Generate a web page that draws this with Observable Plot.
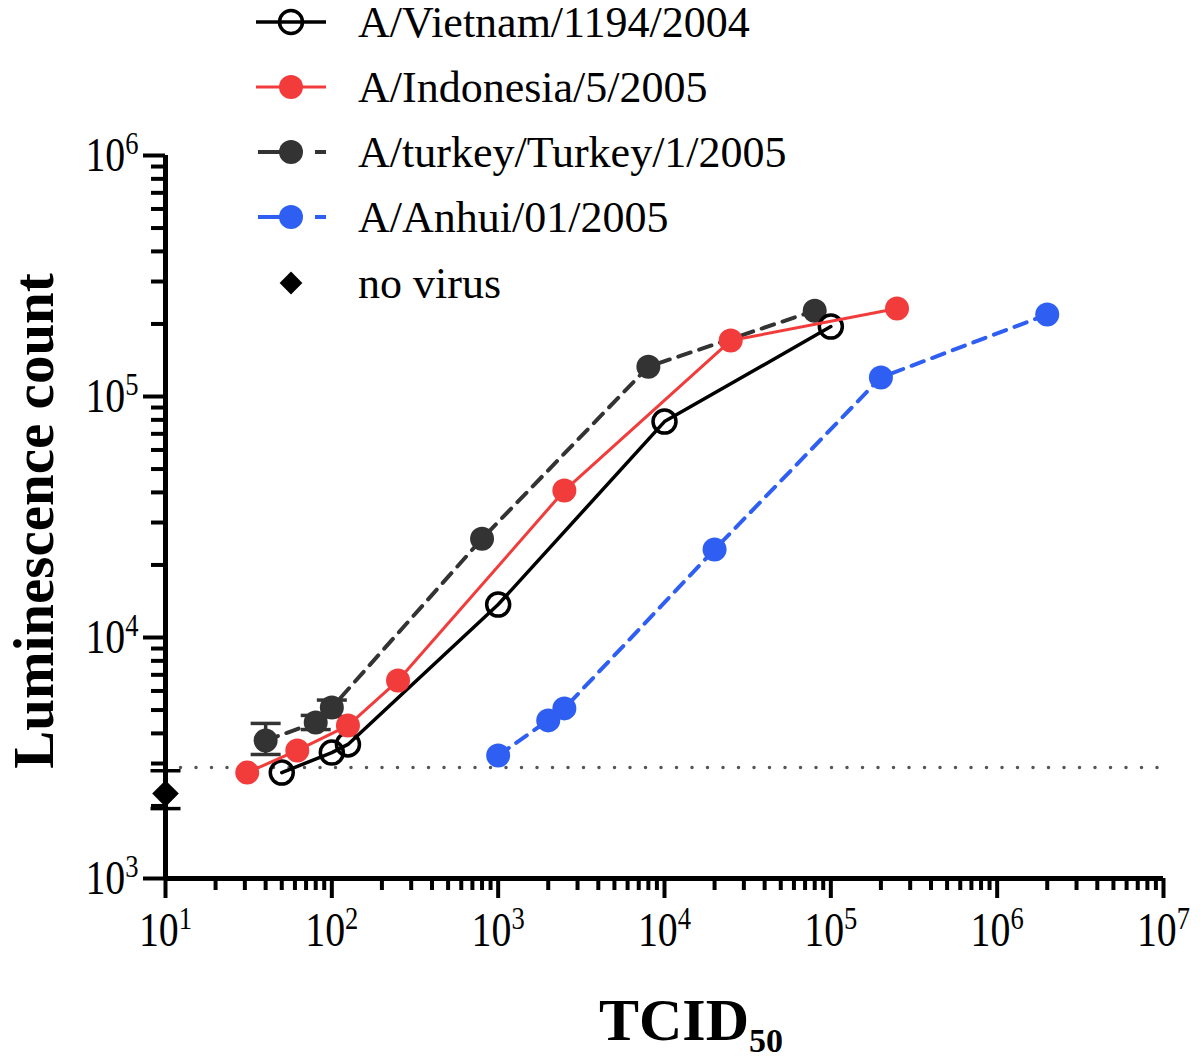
<!DOCTYPE html>
<html><head><meta charset="utf-8">
<script src="https://cdn.jsdelivr.net/npm/d3@7"></script>
<script src="https://cdn.jsdelivr.net/npm/@observablehq/plot@0.6"></script>
<style>body{margin:0;background:#fff} svg{display:block}</style>
</head><body><div id="chart"></div>
<script>
// ---- data ----
const seriesNames = ["A/Vietnam/1194/2004", "A/Indonesia/5/2005", "A/turkey/Turkey/1/2005", "A/Anhui/01/2005", "no virus"];
const vietnamX = [50, 100, 125, 1000, 10000, 100000];
const vietnamY = [2750, 3330, 3600, 13700, 78700, 195000];
const indonesiaX = [31, 62, 125, 250, 2500, 25000, 250000];
const indonesiaY = [2750, 3400, 4310, 6630, 40700, 170600, 231800];
const turkeyX = [40, 80, 100, 800, 8000, 80000];
const turkeyY = [3740, 4440, 5120, 25700, 133000, 227000];
const turkeyErrX = [40, 80, 100];
const turkeyErrLo = [3270, 4150, 4700];
const turkeyErrHi = [4400, 4750, 5500];
const anhuiX = [1000, 2000, 2500, 20000, 200000, 2000000];
const anhuiY = [3240, 4530, 5080, 23200, 120000, 219000];
const noVirusX = [10];
const noVirusY = [2250];
const noVirusLo = [1950];
const noVirusHi = [2800];
const backgroundLevel = [2890];
const xDecades = [1e1, 1e2, 1e3, 1e4, 1e5, 1e6, 1e7];
const yDecades = [1e3, 1e4, 1e5, 1e6];

const RED = "#f23c3c", BLUE = "#2f5ff2", GRAY = "#333333";

const rows = (xs, ys) => xs.map((x, i) => ({x, y: ys[i]}));
const vietnam = rows(vietnamX, vietnamY);
const indonesia = rows(indonesiaX, indonesiaY);
const turkey = rows(turkeyX, turkeyY);
const anhui = rows(anhuiX, anhuiY);
const turkeyErr = turkeyErrX.map((x, i) => ({x, lo: turkeyErrLo[i], hi: turkeyErrHi[i]}));
const noVirus = noVirusX.map((x, i) => ({x, y: noVirusY[i], lo: noVirusLo[i], hi: noVirusHi[i]}));

const minorTicks = (decs) => {
  const out = [];
  for (let i = 0; i < decs.length - 1; i++) for (let m = 2; m <= 9; m++) out.push(m * decs[i]);
  return out;
};

// horizontal cap symbol for error bars
const capSymbol = {draw(ctx, size) { const r = Math.sqrt(size / Math.PI); ctx.moveTo(-r, 0); ctx.lineTo(r, 0); }};

const expFmt = d => String(Math.round(Math.log10(d)));

const chart = Plot.plot({
  width: 1200, height: 1062,
  marginLeft: 165, marginRight: 37, marginTop: 155, marginBottom: 184,
  style: {fontFamily: "Liberation Serif", color: "black", background: "white", overflow: "visible"},
  x: {type: "log", domain: [10, 1e7]},
  y: {type: "log", domain: [1e3, 1e6]},
  marks: [
    Plot.ruleY(backgroundLevel, {stroke: "#555", strokeWidth: 3.5, strokeDasharray: "0 15.5", strokeLinecap: "round"}),
    // Anhui
    Plot.line(anhui, {x: "x", y: "y", stroke: BLUE, strokeWidth: 4, strokeDasharray: "13 9"}),
    Plot.dot(anhui, {x: "x", y: "y", r: 12, fill: BLUE}),
    // turkey
    Plot.ruleX(turkeyErr, {x: "x", y1: "lo", y2: "hi", stroke: GRAY, strokeWidth: 3.5}),
    Plot.dot(turkeyErr, {x: "x", y: "lo", symbol: capSymbol, r: 15, stroke: GRAY, strokeWidth: 3.5}),
    Plot.dot(turkeyErr, {x: "x", y: "hi", symbol: capSymbol, r: 15, stroke: GRAY, strokeWidth: 3.5}),
    Plot.line(turkey, {x: "x", y: "y", stroke: GRAY, strokeWidth: 4, strokeDasharray: "13 9"}),
    Plot.dot(turkey, {x: "x", y: "y", r: 12, fill: GRAY}),
    // Vietnam
    Plot.line(vietnam, {x: "x", y: "y", stroke: "black", strokeWidth: 3.5}),
    Plot.dot(vietnam, {x: "x", y: "y", r: 11.5, stroke: "black", strokeWidth: 3.5, fill: "none"}),
    // Indonesia
    Plot.line(indonesia, {x: "x", y: "y", stroke: RED, strokeWidth: 3}),
    Plot.dot(indonesia, {x: "x", y: "y", r: 12, fill: RED}),
    // axes lines
    Plot.ruleY([1e3], {strokeWidth: 5}),
    Plot.ruleX([10], {strokeWidth: 5}),
    // no virus
    Plot.ruleX(noVirus, {x: "x", y1: "lo", y2: "hi", stroke: "black", strokeWidth: 3.5}),
    Plot.dot(noVirus, {x: "x", y: "lo", symbol: capSymbol, r: 15, stroke: "black", strokeWidth: 3.5}),
    Plot.dot(noVirus, {x: "x", y: "hi", symbol: capSymbol, r: 15, stroke: "black", strokeWidth: 3.5}),
    Plot.dot(noVirus, {x: "x", y: "y", symbol: "diamond2", r: 12, fill: "black"}),
    // axes ticks
    Plot.axisX({ticks: minorTicks(xDecades), tickSize: 12, strokeWidth: 4, tickFormat: () => "", label: null}),
    Plot.axisX({ticks: xDecades, tickSize: 20, tickPadding: 13, strokeWidth: 4, tickFormat: expFmt, fontSize: 48, label: null}),
    Plot.axisY({ticks: minorTicks(yDecades), tickSize: 14, strokeWidth: 4, tickFormat: () => "", label: null}),
    Plot.axisY({ticks: yDecades, tickSize: 22, tickPadding: 5, strokeWidth: 4, tickFormat: expFmt, fontSize: 48, label: null})
  ]
});

document.getElementById("chart").appendChild(chart);

// ---- superscript tick labels ----
const NS = "http://www.w3.org/2000/svg";
chart.querySelectorAll('g[aria-label="x-axis tick label"] text, g[aria-label="y-axis tick label"] text').forEach(t => {
  const e = t.textContent;
  if (!e) return;
  t.textContent = "";
  t.setAttribute("font-size", 48);
  const a = document.createElementNS(NS, "tspan"); a.textContent = "10"; t.appendChild(a);
  const b = document.createElementNS(NS, "tspan"); b.textContent = e;
  b.setAttribute("font-size", 32); b.setAttribute("dy", -17); t.appendChild(b);
  const tr = t.getAttribute("transform");
  if (tr) t.setAttribute("transform", tr + " scale(0.83,1)");
});

const svg = d3.select(chart);

// ---- axis titles ----
svg.append("text")
  .attr("transform", "translate(53,521) rotate(-90)")
  .attr("text-anchor", "middle")
  .attr("font-family", "Liberation Serif").attr("font-weight", "bold").attr("font-size", 57)
  .text("Luminescence count");

const tt = svg.append("text")
  .attr("x", 691).attr("y", 1040)
  .attr("text-anchor", "middle")
  .attr("font-family", "Liberation Serif").attr("font-weight", "bold").attr("font-size", 60);
tt.append("tspan").text("TCID");
tt.append("tspan").attr("font-size", 34).attr("dy", 12).text("50");

// ---- legend ----
const lg = svg.append("g").attr("font-family", "Liberation Serif").attr("font-size", 44).attr("text-anchor", "start");
const rowY = [22, 87, 152, 217, 283];
const legendStyle = [
  {kind: "solid", color: "black", open: true},
  {kind: "solid", color: RED},
  {kind: "dash", color: GRAY},
  {kind: "dash", color: BLUE},
  {kind: "diamond", color: "black"}
];
seriesNames.forEach((name, i) => {
  const y = rowY[i], s = legendStyle[i], cx = 291;
  if (s.kind === "solid") {
    lg.append("line").attr("x1", 256).attr("x2", 326).attr("y1", y).attr("y2", y)
      .attr("stroke", s.color).attr("stroke-width", s.open ? 3.5 : 3);
  } else if (s.kind === "dash") {
    lg.append("line").attr("x1", 258).attr("x2", 282).attr("y1", y).attr("y2", y).attr("stroke", s.color).attr("stroke-width", 4);
    lg.append("line").attr("x1", 315).attr("x2", 326).attr("y1", y).attr("y2", y).attr("stroke", s.color).attr("stroke-width", 4);
  }
  if (s.kind === "diamond") {
    lg.append("path").attr("d", d3.symbol(d3.symbolDiamond2, 330)()).attr("transform", `translate(${cx},${y})`).attr("fill", "black");
  } else if (s.open) {
    lg.append("circle").attr("cx", cx).attr("cy", y).attr("r", 11.5).attr("fill", "none").attr("stroke", "black").attr("stroke-width", 3.5);
  } else {
    lg.append("circle").attr("cx", cx).attr("cy", y).attr("r", 12).attr("fill", s.color);
  }
  lg.append("text").attr("x", 358).attr("y", y).attr("dy", "0.35em").text(name);
});
</script>
</body></html>
